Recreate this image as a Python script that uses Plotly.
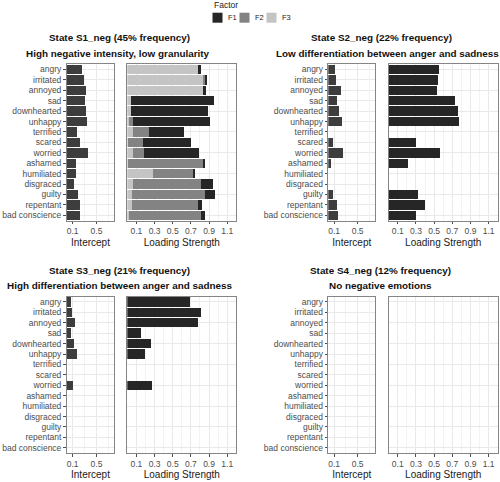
import plotly.graph_objects as go

# ---------------- data ----------------
categories = ["angry", "irritated", "annoyed", "sad", "downhearted", "unhappy",
              "terrified", "scared", "worried", "ashamed", "humiliated",
              "disgraced", "guilty", "repentant", "bad conscience"]
factors = ["F1", "F2", "F3"]

state_titles = ["State S1_neg (45% frequency)", "State S2_neg (22% frequency)",
                "State S3_neg (21% frequency)", "State S4_neg (12% frequency)"]
state_subtitles = ["High negative intensity, low granularity",
                   "Low differentiation between anger and sadness",
                   "High differentiation between anger and sadness",
                   "No negative emotions"]

s1_intercept = [0.25, 0.29, 0.32, 0.30, 0.32, 0.34, 0.17, 0.22, 0.36, 0.16, 0.16, 0.13, 0.19, 0.23, 0.22]
s1_f1 = [0.03, 0.025, 0.02, 0.91, 0.85, 0.845, 0.379, 0.526, 0.606, 0.015, 0.011, 0.133, 0.114, 0.044, 0.041]
s1_f2 = [0.0, 0.01, 0.0, 0.0, 0.0, 0.038, 0.176, 0.165, 0.121, 0.834, 0.44, 0.749, 0.804, 0.734, 0.79]
s1_f3 = [0.78, 0.84, 0.845, 0.04, 0.04, 0.022, 0.066, 0.005, 0.066, 0.011, 0.287, 0.066, 0.052, 0.048, 0.022]

s2_intercept = [0.114, 0.131, 0.211, 0.153, 0.187, 0.228, 0.0, 0.075, 0.245, 0.046, 0.0, 0.0, 0.075, 0.143, 0.17]
s2_f1 = [0.554, 0.54, 0.532, 0.727, 0.767, 0.774, 0.0, 0.297, 0.569, 0.213, 0.0, 0.0, 0.326, 0.396, 0.297]
s2_f2 = [0.0, 0.0, 0.0, 0.0, 0.0, 0.0, 0.0, 0.0, 0.0, 0.0, 0.0, 0.0, 0.0, 0.0, 0.0]
s2_f3 = [0.0, 0.0, 0.0, 0.0, 0.0, 0.0, 0.0, 0.0, 0.0, 0.0, 0.0, 0.0, 0.0, 0.0, 0.0]

s3_intercept = [0.067, 0.089, 0.14, 0.078, 0.123, 0.173, 0.0, 0.0, 0.111, 0.0, 0.0, 0.0, 0.0, 0.0, 0.0]
s3_f1 = [0.691, 0.812, 0.779, 0.154, 0.261, 0.195, 0.0, 0.0, 0.272, 0.0, 0.0, 0.0, 0.0, 0.0, 0.0]
s3_f2 = [0.0, 0.0, 0.0, 0.0, 0.0, 0.0, 0.0, 0.0, 0.0, 0.0, 0.0, 0.0, 0.0, 0.0, 0.0]
s3_f3 = [0.0, 0.0, 0.0, 0.0, 0.0, 0.0, 0.0, 0.0, 0.0, 0.0, 0.0, 0.0, 0.0, 0.0, 0.0]

s4_intercept = [0.0, 0.0, 0.0, 0.0, 0.0, 0.0, 0.0, 0.0, 0.0, 0.0, 0.0, 0.0, 0.0, 0.0, 0.0]
s4_f1 = [0.0, 0.0, 0.0, 0.0, 0.0, 0.0, 0.0, 0.0, 0.0, 0.0, 0.0, 0.0, 0.0, 0.0, 0.0]
s4_f2 = [0.0, 0.0, 0.0, 0.0, 0.0, 0.0, 0.0, 0.0, 0.0, 0.0, 0.0, 0.0, 0.0, 0.0, 0.0]
s4_f3 = [0.0, 0.0, 0.0, 0.0, 0.0, 0.0, 0.0, 0.0, 0.0, 0.0, 0.0, 0.0, 0.0, 0.0, 0.0]

intercept_ticks = [0.1, 0.5]
loading_ticks = [0.1, 0.3, 0.5, 0.7, 0.9, 1.1]

# ---------------- styling ----------------
W, H = 500, 482
FONT = "Liberation Sans, Arial, sans-serif"
factor_colors = {"F1": "#262626", "F2": "#838383", "F3": "#c4c4c4"}
intercept_color = "#3d3d3d"
border_color = "#858585"
grid_major = "#e9e9e9"
grid_minor = "#f3f3f3"
tick_text = "#4d4d4d"


def fx(a, b):
    return [a / W, b / W]


def fy(top, bottom):
    return [1 - bottom / H, 1 - top / H]


# panel geometry in pixels: (intercept x, loading x, y)
cols = [((66.7, 114.3), (127.3, 236.3)), ((328.3, 375.3), (388.7, 497.7))]
rows = [(64.3, 220.5), (296.7, 453.0)]
title_pos = [  # (x centre line1, x centre line2, y line1, y line2)
    (119, 118, 38, 53), (381, 387, 38, 53),
    (119, 119, 270.5, 285), (380, 380.5, 270.5, 285)]

states = [
    (s1_intercept, {"F1": s1_f1, "F2": s1_f2, "F3": s1_f3}),
    (s2_intercept, {"F1": s2_f1, "F2": s2_f2, "F3": s2_f3}),
    (s3_intercept, {"F1": s3_f1, "F2": s3_f2, "F3": s3_f3}),
    (s4_intercept, {"F1": s4_f1, "F2": s4_f2, "F3": s4_f3}),
]

fig = go.Figure()
layout = dict(
    width=W, height=H, margin=dict(l=0, r=0, t=0, b=0),
    paper_bgcolor="white", plot_bgcolor="white",
    barmode="stack", bargap=0.1, showlegend=False,
    font=dict(family=FONT, color="#1a1a1a"),
)
annotations = []
shapes = []

ax_i = 0
for s, (intercept, loads) in enumerate(states):
    r, c = divmod(s, 2)
    (ix, lx) = cols[c]
    ytop, ybot = rows[r]
    # intercept panel
    ax_i += 1
    xa, ya = f"x{ax_i}", f"y{ax_i}"
    fig.add_trace(go.Bar(x=intercept, y=categories, orientation="h",
                         marker=dict(color=intercept_color, line=dict(width=0)),
                         xaxis=xa, yaxis=ya, name="Intercept", hoverinfo="x+y"))
    common_x = dict(showline=True, mirror=True, linecolor=border_color, linewidth=1.3,
                    showgrid=True, gridcolor=grid_major, gridwidth=0.8, zeroline=False,
                    ticks="outside", ticklen=2.5, tickcolor="#4d4d4d", tickwidth=0.8,
                    tickfont=dict(size=8.5, color=tick_text, family=FONT),
                    title=dict(font=dict(size=10, color="#1a1a1a", family=FONT), standoff=3))
    common_y = dict(type="category", categoryorder="array", categoryarray=categories,
                    range=[len(categories) - 0.5, -0.5],
                    showline=True, mirror=True, linecolor=border_color, linewidth=1.3,
                    showgrid=True, gridcolor=grid_major, gridwidth=0.8, zeroline=False)
    layout[f"xaxis{ax_i}"] = dict(common_x, domain=fx(*ix), anchor=ya, range=[0, 0.8],
                                  tickvals=intercept_ticks,
                                  ticktext=[f"{v:.1f}" for v in intercept_ticks],
                                  minor=dict(tickvals=[0.3, 0.7], showgrid=True,
                                             gridcolor=grid_minor, gridwidth=0.6),
                                  title=dict(common_x["title"], text="Intercept"))
    layout[f"yaxis{ax_i}"] = dict(common_y, domain=fy(ytop, ybot), anchor=xa,
                                  ticks="outside", ticklen=2.5, tickcolor="#4d4d4d",
                                  tickwidth=0.8,
                                  tickfont=dict(size=8.5, color=tick_text, family=FONT))
    # loading panel
    ax_i += 1
    xa, ya = f"x{ax_i}", f"y{ax_i}"
    for f in ["F3", "F2", "F1"]:
        fig.add_trace(go.Bar(x=loads[f], y=categories, orientation="h",
                             marker=dict(color=factor_colors[f], line=dict(width=0)),
                             xaxis=xa, yaxis=ya, name=f, hoverinfo="x+y+name"))
    layout[f"xaxis{ax_i}"] = dict(common_x, domain=fx(*lx), anchor=ya, range=[0, 1.2],
                                  tickvals=loading_ticks,
                                  ticktext=[f"{v:.1f}" for v in loading_ticks],
                                  minor=dict(tickvals=[0.2, 0.4, 0.6, 0.8, 1.0], showgrid=True,
                                             gridcolor=grid_minor, gridwidth=0.6),
                                  title=dict(common_x["title"], text="Loading Strength"))
    layout[f"yaxis{ax_i}"] = dict(common_y, domain=fy(ytop, ybot), anchor=xa,
                                  showticklabels=False, ticks="")
    # titles
    x1, x2, y1, y2 = title_pos[s]
    annotations.append(dict(text=f"<b>{state_titles[s]}</b>", x=x1 / W, y=1 - y1 / H,
                            xref="paper", yref="paper", showarrow=False,
                            xanchor="center", yanchor="middle",
                            font=dict(size=9.9, color="#111111", family=FONT)))
    annotations.append(dict(text=f"<b>{state_subtitles[s]}</b>", x=x2 / W, y=1 - y2 / H,
                            xref="paper", yref="paper", showarrow=False,
                            xanchor="center", yanchor="middle",
                            font=dict(size=9.9, color="#111111", family=FONT)))

# ---------------- legend (drawn manually) ----------------
annotations.append(dict(text="Factor", x=212 / W, y=1 - 5 / H, xref="paper", yref="paper",
                        showarrow=False, xanchor="left", yanchor="middle",
                        font=dict(size=8.5, color="#1a1a1a", family=FONT)))
for k, f in enumerate(factors):
    x0 = 212.5 + 27 * k
    shapes.append(dict(type="rect", xref="paper", yref="paper",
                       x0=x0 / W, x1=(x0 + 10) / W, y0=1 - 22.7 / H, y1=1 - 12.7 / H,
                       fillcolor=factor_colors[f], line=dict(width=0)))
    annotations.append(dict(text=f, x=(x0 + 13.5) / W, y=1 - 17.7 / H, xref="paper",
                            yref="paper", showarrow=False, xanchor="left", yanchor="middle",
                            font=dict(size=7.5, color="#1a1a1a", family=FONT)))

layout["annotations"] = annotations
layout["shapes"] = shapes
fig.update_layout(**layout)
fig.write_html("out.html", config={"displayModeBar": False},
               post_script="document.body.style.margin='0';document.body.style.overflow='hidden';")
